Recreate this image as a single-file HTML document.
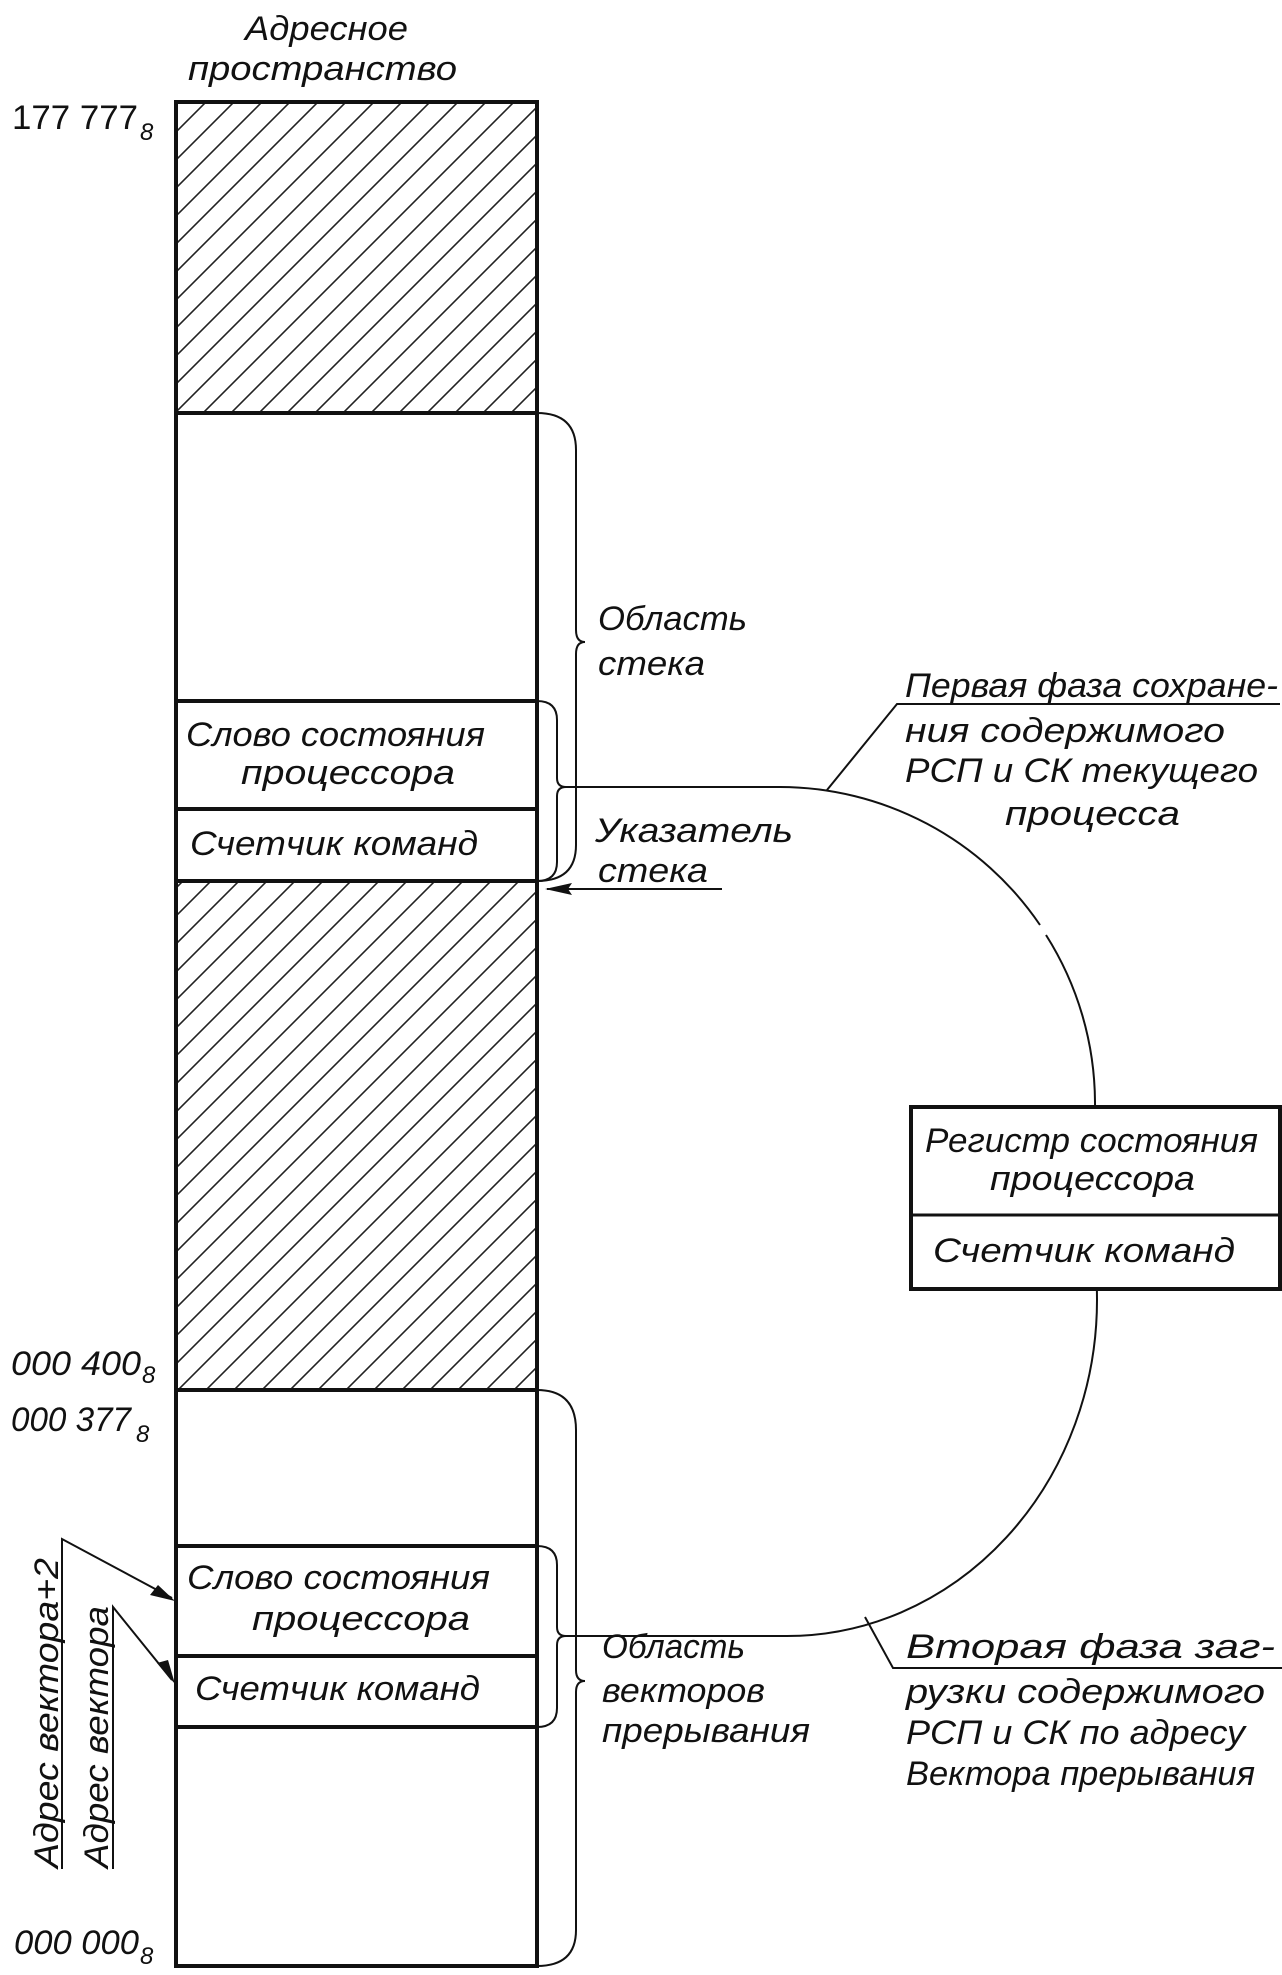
<!DOCTYPE html>
<html><head><meta charset="utf-8"><style>
html,body{margin:0;padding:0;background:#fff}
svg{display:block}
text{font-family:"Liberation Sans","DejaVu Sans",sans-serif;font-style:italic;font-size:34px;fill:#111}
</style></head><body>
<svg width="1282" height="1975" viewBox="0 0 1282 1975" xmlns="http://www.w3.org/2000/svg">
<defs>
<pattern id="h" patternUnits="userSpaceOnUse" width="28" height="28">
<path d="M-7 7 L7 -7 M0 28 L28 0 M21 35 L35 21" stroke="#222" stroke-width="1.6"/>
</pattern>
</defs>
<g stroke="#111" fill="none">
<rect x="176" y="102" width="361" height="311" fill="url(#h)" stroke="none"/>
<rect x="176" y="881" width="361" height="509" fill="url(#h)" stroke="none"/>
<rect x="176" y="102" width="361" height="1864" stroke-width="4"/>
<line x1="176" y1="413" x2="537" y2="413" stroke-width="4"/>
<line x1="176" y1="701" x2="537" y2="701" stroke-width="4"/>
<line x1="176" y1="809" x2="537" y2="809" stroke-width="4"/>
<line x1="176" y1="881" x2="537" y2="881" stroke-width="4"/>
<line x1="176" y1="1390" x2="537" y2="1390" stroke-width="4"/>
<line x1="176" y1="1546" x2="537" y2="1546" stroke-width="4"/>
<line x1="176" y1="1656" x2="537" y2="1656" stroke-width="4"/>
<line x1="176" y1="1727" x2="537" y2="1727" stroke-width="4"/>
<!-- stack braces -->
<path d="M537 413 Q576 413 576 450 L576 630 Q576 642 585 642 Q576 642 576 654 L576 845 Q576 881 537 881" stroke-width="2"/>
<path d="M537 701 Q557 701 557 720 L557 778 Q557 787 566 787 Q557 787 557 796 L557 862 Q557 881 537 881" stroke-width="2"/>
<!-- arc -->
<path d="M566 787 L780 787 A315 315 0 0 1 1040 925" stroke-width="2"/>
<path d="M1046 935 A315 315 0 0 1 1095 1102 L1097 1300 A310 336 0 0 1 787 1636 L566 1636" stroke-width="2"/>
<!-- vector braces -->
<path d="M537 1390 Q576 1390 576 1430 L576 1670 Q576 1681 585 1681 Q576 1681 576 1692 L576 1930 Q576 1966 537 1966" stroke-width="2"/>
<path d="M537 1546 Q557 1546 557 1565 L557 1627 Q557 1636 566 1636 Q557 1636 557 1645 L557 1708 Q557 1727 537 1727" stroke-width="2"/>
<!-- register box -->
<rect x="911" y="1107" width="369" height="182" stroke-width="4" fill="#fff"/>
<line x1="911" y1="1215" x2="1280" y2="1215" stroke-width="3"/>
<!-- leaders -->
<path d="M827 790 L897 704 L1280 704" stroke-width="2"/>
<path d="M865 1617 L893 1668 L1282 1668" stroke-width="2"/>
<!-- stack pointer arrow -->
<path d="M722 889 L547 889" stroke-width="2"/>
<!-- vector address leaders -->
<path d="M62 1869 L62 1539 L172 1598" stroke-width="2"/>
<path d="M113 1869 L113 1607 L172 1680" stroke-width="2"/>
</g>
<g fill="#111">
<path d="M545 889 L572 883 L568 889 L572 895 Z"/>
<path d="M175 1601 L150 1595 L158 1585 Z"/>
<path d="M175 1684 L157 1663 L168 1660 Z"/>
</g>
<text x="245" y="40" textLength="163" lengthAdjust="spacingAndGlyphs">Адресное</text>
<text x="188" y="80" textLength="269" lengthAdjust="spacingAndGlyphs">пространство</text>
<text x="12" y="129" textLength="126" lengthAdjust="spacingAndGlyphs" style="font-style:normal">177 777</text>
<text x="140" y="140" style="font-size:24px">8</text>
<text x="186" y="746" textLength="299" lengthAdjust="spacingAndGlyphs">Слово состояния</text>
<text x="241" y="784" textLength="214" lengthAdjust="spacingAndGlyphs">процессора</text>
<text x="190" y="855" textLength="288" lengthAdjust="spacingAndGlyphs">Счетчик команд</text>
<text x="598" y="630" textLength="149" lengthAdjust="spacingAndGlyphs">Область</text>
<text x="598" y="675" textLength="107" lengthAdjust="spacingAndGlyphs">стека</text>
<text x="595" y="842" textLength="198" lengthAdjust="spacingAndGlyphs">Указатель</text>
<text x="598" y="882" textLength="110" lengthAdjust="spacingAndGlyphs">стека</text>
<text x="905" y="697" textLength="373" lengthAdjust="spacingAndGlyphs">Первая фаза сохране-</text>
<text x="905" y="742" textLength="320" lengthAdjust="spacingAndGlyphs">ния  содержимого</text>
<text x="905" y="782" textLength="353" lengthAdjust="spacingAndGlyphs">РСП и СК  текущего</text>
<text x="1005" y="825" textLength="175" lengthAdjust="spacingAndGlyphs">процесса</text>
<text x="925" y="1152" textLength="333" lengthAdjust="spacingAndGlyphs">Регистр состояния</text>
<text x="990" y="1190" textLength="205" lengthAdjust="spacingAndGlyphs">процессора</text>
<text x="933" y="1262" textLength="302" lengthAdjust="spacingAndGlyphs">Счетчик команд</text>
<text x="11" y="1375" textLength="130" lengthAdjust="spacingAndGlyphs">000 400</text>
<text x="142" y="1383" style="font-size:24px">8</text>
<text x="11" y="1431" textLength="120" lengthAdjust="spacingAndGlyphs">000 377</text>
<text x="136" y="1442" style="font-size:24px">8</text>
<text x="14" y="1954" textLength="125" lengthAdjust="spacingAndGlyphs">000 000</text>
<text x="140" y="1964" style="font-size:24px">8</text>
<text x="187" y="1589" textLength="303" lengthAdjust="spacingAndGlyphs">Слово состояния</text>
<text x="252" y="1630" textLength="218" lengthAdjust="spacingAndGlyphs">процессора</text>
<text x="195" y="1700" textLength="285" lengthAdjust="spacingAndGlyphs">Счетчик команд</text>
<text x="602" y="1658" textLength="143" lengthAdjust="spacingAndGlyphs">Область</text>
<text x="602" y="1702" textLength="163" lengthAdjust="spacingAndGlyphs">векторов</text>
<text x="602" y="1742" textLength="208" lengthAdjust="spacingAndGlyphs">прерывания</text>
<text x="906" y="1658" textLength="369" lengthAdjust="spacingAndGlyphs">Вторая фаза  заг-</text>
<text x="906" y="1703" textLength="359" lengthAdjust="spacingAndGlyphs">рузки содержимого</text>
<text x="906" y="1744" textLength="339" lengthAdjust="spacingAndGlyphs">РСП и СК по  адресу</text>
<text x="906" y="1785" textLength="349" lengthAdjust="spacingAndGlyphs">Вектора прерывания</text>
<text transform="translate(58,1868) rotate(-90)" textLength="310" lengthAdjust="spacingAndGlyphs">Адрес вектора+2</text>
<text transform="translate(108,1868) rotate(-90)" textLength="262" lengthAdjust="spacingAndGlyphs">Адрес вектора</text>
</svg>
</body></html>
